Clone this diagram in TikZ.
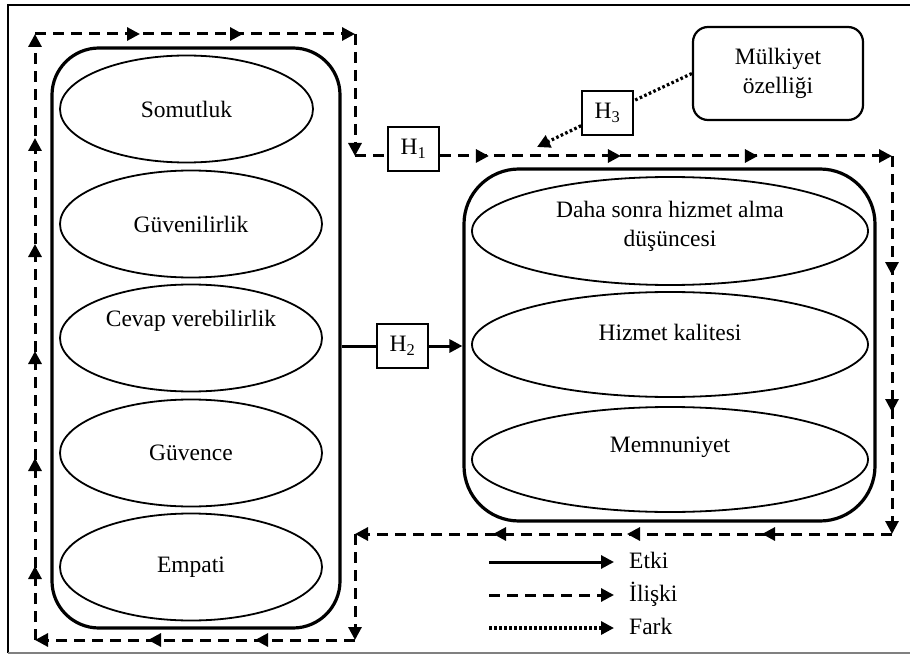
\documentclass[tikz,border=0pt]{standalone}
\usepackage{fontspec}
\setmainfont{Liberation Serif}
\usetikzlibrary{arrows.meta,shapes.geometric,decorations.markings}

\tikzset{
	>={Triangle[length=13pt,width=13pt]},
	ell/.style={ellipse,draw,line width=1.8pt,inner sep=0pt,minimum height=107pt,minimum width=262pt},
	rell/.style={ell,minimum width=396pt},
	cont/.style={draw,line width=3.2pt,rounded corners=#1,inner sep=0pt},
	hbox/.style={draw,line width=1.8pt,minimum width=51pt,minimum height=44pt,inner sep=0pt},
	rel/.style={line width=3pt,dash pattern=on 11pt off 7pt},
	eff/.style={line width=3pt},
	diff/.style={line width=3.2pt,dash pattern=on 2.6pt off 2.4pt},
	midtip/.style={postaction={decorate,decoration={markings,mark=at position #1pt with {\arrow{>}}}}},
	key/.style={anchor=west,inner sep=0pt,text height=12pt,text depth=0pt}
}

\begin{document}
\begin{tikzpicture}[x=1pt,y=-1pt,font=\fontsize{23.5}{29}\selectfont]

	\useasboundingbox (0,0) rectangle (910,655);
	\draw[line width=2.8pt] (8,653) -- (8,5) -- (910,5);
	\draw[line width=2.2pt,gray] (8,653) -- (910,653);

	\node[cont=47pt,minimum width=288pt,minimum height=580pt] (lbox) at (196,338) {};
	\node[cont=55pt,minimum width=411pt,minimum height=352pt] (rbox) at (669.5,345) {};

	\node[ell,minimum width=253pt] (som) at (186.5,109) {Somutluk};
	\node[ell] (guv) at (191,224) {Güvenilirlik};
	\node[ell] (cev) at (191,338) {};
	\node (cevt) at (191,321) {Cevap verebilirlik};
	\node[ell] (gvc) at (191,453) {Güvence};
	\node[ell] (emp) at (191,567) {Empati};

	\node[rell,minimum height=108pt] (dah) at (670,231) {};
	\node[align=center] (daht) at (670,226) {Daha sonra hizmet alma\\düşüncesi};
	\node[rell,minimum height=105pt] (hiz) at (670,344.5) {};
	\node (hizt) at (670,332) {Hizmet kalitesi};
	\node[rell,minimum height=105pt] (mem) at (670,459.5) {};
	\node (memt) at (670,447) {Memnuniyet};

	\node[draw,line width=2.2pt,rounded corners=15pt,minimum width=170pt,minimum height=93pt,align=center] (mul) at (778,73.5) {Mülkiyet\\özelliği};

	\node[hbox] (h1) at (413.5,149) {H\textsubscript{1}};
	\node[hbox] (h2) at (402.5,346) {H\textsubscript{2}};
	\node[hbox] (h3) at (607.5,113) {H\textsubscript{3}};

	\coordinate (tl) at (35,34);
	\coordinate (tr) at (355,34);
	\coordinate (c1) at (355,156);
	\coordinate (rt) at (892,156);
	\coordinate (rb) at (892,534);
	\coordinate (c2) at (355,534);
	\coordinate (br) at (355,640);
	\coordinate (bl) at (35,640);

	\draw[rel,->,midtip=74,midtip=182,midtip=289,midtip=396,midtip=502] (bl) -- (tl);
	\draw[rel,->,midtip=105,midtip=208] (tl) -- (tr);
	\draw[rel,->] (tr) -- (c1);
	\draw[rel] (c1) -- (h1.west |- c1);
	\draw[rel,->,midtip=49,midtip=181,midtip=318] (h1.east |- c1) -- (rt);
	\draw[rel,->,midtip=119,midtip=256] (rt) -- (rb);
	\draw[rel,->,midtip=130,midtip=265,midtip=399] (rb) -- (c2);
	\draw[rel,->] (c2) -- (br);
	\draw[rel,->,midtip=100,midtip=207] (br) -- (bl);

	\draw[eff] (lbox.east |- h2) -- (h2);
	\draw[eff,->] (h2) -- (rbox.west |- h2);

	\coordinate (h3tip) at (537,147);
	\draw[diff] (mul.west) -- (h3);
	\draw[diff,->] (h3) -- (h3tip);

	\node[key] (etki) at (629,562) {Etki};
	\node[key] (iliski) at (629,595) {İlişki};
	\node[key] (fark) at (629,628) {Fark};
	\coordinate (k1) at (489,562);
	\coordinate (k2) at (489,595);
	\coordinate (k3) at (489,628);
	\draw[eff,->] (k1) -- ([xshift=-15pt]etki.west);
	\draw[rel,->] (k2) -- ([xshift=-15pt]iliski.west);
	\draw[diff,->] (k3) -- ([xshift=-15pt]fark.west);

\end{tikzpicture}
\end{document}
